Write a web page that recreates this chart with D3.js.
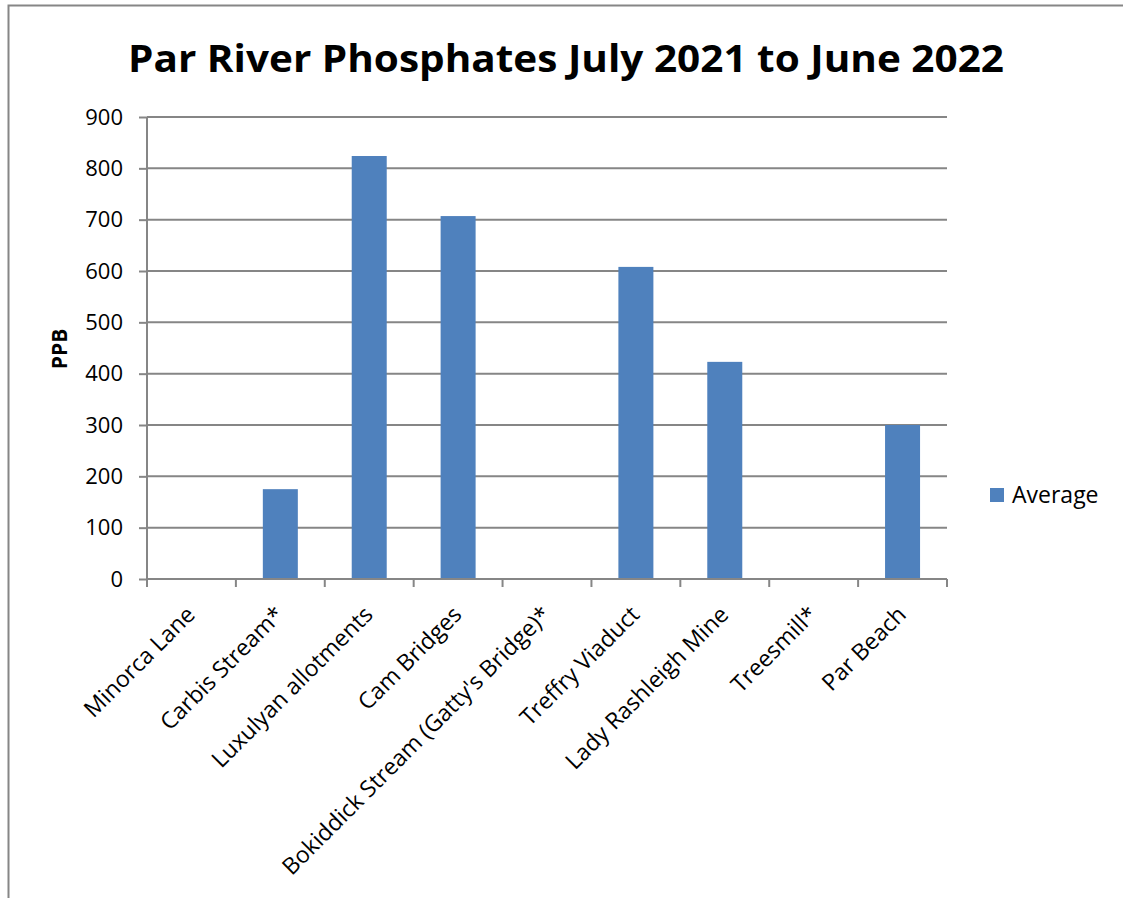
<!DOCTYPE html>
<html><head><meta charset="utf-8">
<script src="https://cdn.jsdelivr.net/npm/d3@7"></script>
<style>body{margin:0;background:#fff}svg{display:block}</style>
</head><body>
<script>
const categories = ["Minorca Lane","Carbis Stream*","Luxulyan allotments","Cam Bridges","Bokiddick Stream (Gatty's Bridge)*","Treffry Viaduct","Lady Rashleigh Mine","Treesmill*","Par Beach"];
const averageValues = [null,175,824,707,null,608,423,null,300];
const yTicks = [0,100,200,300,400,500,600,700,800,900];
const seriesName = "Average";
const titleText = "Par River Phosphates July 2021 to June 2022";
const yLabel = "PPB";

const W=1123,H=898;
const svg=d3.select("body").append("svg").attr("width",W).attr("height",H);
const font="'Open Sans', 'Liberation Sans', sans-serif";
const grey="#868686", blue="#4F81BD";

// frame
svg.append("path").attr("d","M8.5,898 L8.5,5.5 L1123,5.5").attr("fill","none").attr("stroke",grey).attr("stroke-width",2);

const L=147,R=947,T=117,B=579;
const xb=d3.scaleBand().domain(categories).range([L,R]);
const y=d3.scaleLinear().domain([0,900]).range([B,T]);

// gridlines
svg.append("g").selectAll("line").data(yTicks.filter(d=>d>0)).join("line")
 .attr("x1",L).attr("x2",R).attr("y1",d=>y(d)).attr("y2",d=>y(d))
 .attr("stroke",grey).attr("stroke-width",2);

// y axis
const ya=svg.append("g").attr("transform",`translate(${L},0)`)
 .call(d3.axisLeft(y).tickValues(yTicks).tickSize(8).tickPadding(16).tickFormat(d3.format("d")));
ya.select(".domain").attr("stroke",grey).attr("stroke-width",2).attr("d",`M0,${T}V${B}`);
ya.selectAll(".tick line").attr("stroke",grey).attr("stroke-width",2);
ya.selectAll(".tick text").attr("font-family",font).attr("font-size",22).attr("fill","#000");

// bars
svg.append("g").selectAll("rect").data(categories.map((c,i)=>({c,v:averageValues[i]})).filter(d=>d.v!=null)).join("rect")
 .attr("x",d=>xb(d.c)+xb.bandwidth()/2-17.5).attr("width",35)
 .attr("y",d=>y(d.v)).attr("height",d=>B-y(d.v)).attr("fill",blue);

// x axis
const xa=svg.append("g").attr("transform",`translate(0,${B})`)
 .call(d3.axisBottom(xb).tickSize(0).tickFormat(d=>d));
xa.select(".domain").attr("stroke",grey).attr("stroke-width",2).attr("d",`M${L},0H${R}`);
// boundary ticks
svg.append("g").selectAll("line").data(d3.range(categories.length+1)).join("line")
 .attr("x1",i=>L+i*xb.step()).attr("x2",i=>L+i*xb.step()).attr("y1",B).attr("y2",B+8)
 .attr("stroke",grey).attr("stroke-width",2);
xa.selectAll(".tick text").attr("font-family",font).attr("font-size",23).attr("fill","#000")
 .attr("text-anchor","end").attr("dy",null).attr("y",0)
 .attr("transform","translate(5,37) rotate(-45)");

// title
svg.append("text").attr("x",566).attr("y",72).attr("text-anchor","middle")
 .attr("font-family",font).attr("font-weight","bold").attr("font-size",38)
 .attr("textLength",876).attr("lengthAdjust","spacingAndGlyphs").text(titleText);

// y label
svg.append("text").attr("transform","translate(67,349) rotate(-90)").attr("text-anchor","middle")
 .attr("font-family",font).attr("font-weight","bold").attr("font-size",21).text(yLabel);

// legend
svg.append("rect").attr("x",990).attr("y",488).attr("width",14).attr("height",14).attr("fill",blue);
svg.append("text").attr("x",1012).attr("y",503).attr("font-family",font).attr("font-size",23).text(seriesName);
</script>
</body></html>
